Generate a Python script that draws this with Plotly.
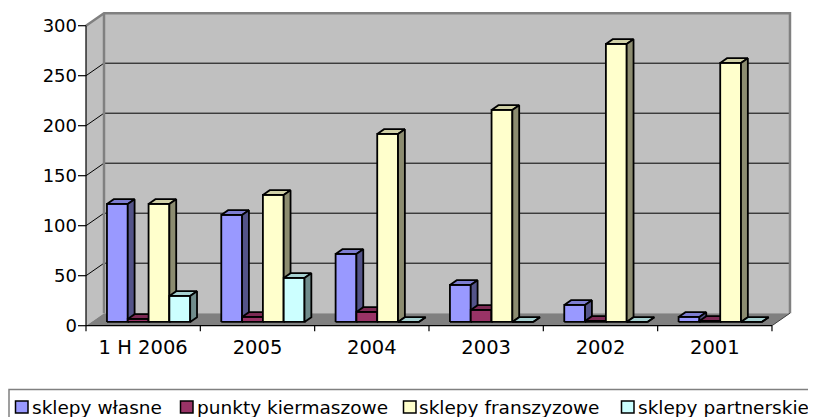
import plotly.graph_objects as go

# ---------------- data ----------------
categories = ["1 H 2006", "2005", "2004", "2003", "2002", "2001"]
series_names = ["sklepy własne", "punkty kiermaszowe", "sklepy franszyzowe", "sklepy partnerskie"]
sklepy_wlasne = [118, 107, 68, 37, 17, 5]
punkty_kiermaszowe = [3, 5, 10, 12, 1, 1]
sklepy_franszyzowe = [118, 127, 188, 212, 278, 259]
sklepy_partnerskie = [26, 44, 0, 0, 0, 0]
y_ticks = [0, 50, 100, 150, 200, 250, 300]

series_values = [sklepy_wlasne, punkty_kiermaszowe, sklepy_franszyzowe, sklepy_partnerskie]

# ---------------- styles ----------------
front_colors = ["#9999FF", "#993366", "#FFFFCC", "#CCFFFF"]
top_colors = ["#7D7DD1", "#7D2A54", "#D1D1A7", "#A7D1D1"]
side_colors = ["#545489", "#541C38", "#8C8C70", "#708C8C"]
FONT = "DejaVu Sans"

WIN_W, WIN_H = 816, 417
OFF = 8                      # page body margin in the browser
FW, FH = WIN_W - OFF, WIN_H - OFF

X0_PX = 86.0      # window pixel of category axis start
CAT_PX = 114.33   # pixels per category
Y0_PX = 325.7     # window pixel of value 0 on the front plane
UNIT_PX = 1.0     # pixels per value unit
PLOT_L, PLOT_R, PLOT_T, PLOT_B = 78, 794, 9, 333


def px_x(p):
    return (p - OFF) / FW


def px_y(p):
    return 1 - (p - OFF) / FH


x_range = [(PLOT_L - X0_PX) / CAT_PX, (PLOT_R - X0_PX) / CAT_PX]
y_range = [(Y0_PX - PLOT_B) / UNIT_PX, (Y0_PX - PLOT_T) / UNIT_PX]

DX = 18.0 / CAT_PX        # depth offset in x units
DY = 12.5 / UNIT_PX       # depth offset in value units
F_FRONT, F_BACK = 0.30, 0.68
BAR_W = 0.182
n_cat = len(categories)
n_ser = len(series_values)
vmax = max(y_ticks)

fig = go.Figure()


def add_poly(xs, ys, fill, line_color=None, line_width=0):
    fig.add_trace(go.Scatter(
        x=xs, y=ys, mode="lines", fill="toself", fillcolor=fill,
        line=dict(color=line_color or fill, width=line_width),
        hoverinfo="skip", showlegend=False))


def add_line(xs, ys, color, width):
    fig.add_trace(go.Scatter(
        x=xs, y=ys, mode="lines", line=dict(color=color, width=width),
        hoverinfo="skip", showlegend=False))


# walls & floor
add_poly([0, 0, DX, DX, 0], [0, vmax, vmax + DY, DY, 0], "#C0C0C0")
add_poly([DX, DX, n_cat + DX, n_cat + DX, DX], [DY, vmax + DY, vmax + DY, DY, DY], "#C0C0C0")
add_poly([0, n_cat, n_cat + DX, DX, 0], [0, 0, DY, DY, 0], "#808080")

# gridlines
gx, gy = [], []
for v in y_ticks[1:-1]:
    gx += [0, DX, n_cat + DX, None]
    gy += [v, v + DY, v + DY, None]
add_line(gx, gy, "black", 1)

# wall borders
add_line([0, DX, n_cat + DX, n_cat + DX], [vmax, vmax + DY, vmax + DY, DY], "#808080", 2.5)
add_line([DX, DX], [DY, vmax + DY], "#808080", 2.5)

# axes lines and ticks
add_line([0, 0], [0, vmax], "black", 1.2)
tx, ty = [], []
for v in y_ticks:
    tx += [-8.0 / CAT_PX, 0, None]
    ty += [v, v, None]
for i in range(n_cat + 1):
    tx += [i, i, None]
    ty += [0, -5.5, None]
add_line(tx, ty, "black", 1.2)
add_line([0, n_cat], [0, 0], "black", 1.2)
add_line([n_cat, n_cat + DX], [0, DY], "#404040", 1)

# bars
ax1, ay1 = F_FRONT * DX, F_FRONT * DY
ax2, ay2 = F_BACK * DX, F_BACK * DY
for s in range(n_ser):
    fx, fy, tpx, tpy, sx, sy = [], [], [], [], [], []
    for i, v in enumerate(series_values[s]):
        x0 = i + 0.5 - 2 * BAR_W + s * BAR_W
        x1 = x0 + BAR_W
        fx += [x0 + ax1, x1 + ax1, x1 + ax1, x0 + ax1, x0 + ax1, None]
        fy += [ay1, ay1, ay1 + v, ay1 + v, ay1, None]
        tpx += [x0 + ax1, x1 + ax1, x1 + ax2, x0 + ax2, x0 + ax1, None]
        tpy += [ay1 + v, ay1 + v, ay2 + v, ay2 + v, ay1 + v, None]
        sx += [x1 + ax1, x1 + ax2, x1 + ax2, x1 + ax1, x1 + ax1, None]
        sy += [ay1, ay2, ay2 + v, ay1 + v, ay1, None]
    add_poly(fx, fy, front_colors[s], "black", 1.8)
    add_poly(tpx, tpy, top_colors[s], "black", 1.8)
    add_poly(sx, sy, side_colors[s], "black", 1.8)

# ---------------- legend (manual, Excel style) ----------------
shapes = [dict(type="rect", xref="paper", yref="paper",
               x0=px_x(9), x1=px_x(840), y0=px_y(440), y1=px_y(389.5),
               line=dict(color="#808080", width=1.5), fillcolor="rgba(0,0,0,0)")]
annotations = []
leg_sq_x = [15.5, 180.5, 403.5, 621.5]
for s in range(n_ser):
    x0 = leg_sq_x[s]
    shapes.append(dict(type="rect", xref="paper", yref="paper",
                       x0=px_x(x0), x1=px_x(x0 + 12.5), y0=px_y(413), y1=px_y(401),
                       line=dict(color="black", width=1.5), fillcolor=front_colors[s]))
    annotations.append(dict(xref="paper", yref="paper", x=px_x(x0 + 15), y=px_y(407),
                            text=series_names[s], showarrow=False, xanchor="left",
                            yanchor="middle", borderpad=0,
                            font=dict(family=FONT, size=18.5, color="black")))

fig.update_layout(
    width=FW, height=FH,
    margin=dict(l=0, r=0, t=0, b=0),
    paper_bgcolor="white", plot_bgcolor="white",
    showlegend=False,
    shapes=shapes, annotations=annotations,
    xaxis=dict(domain=[px_x(PLOT_L), px_x(PLOT_R)], range=x_range,
               tickvals=[i + 0.5 for i in range(n_cat)], ticktext=categories,
               ticks="", showgrid=False, zeroline=False, showline=False,
               tickfont=dict(family=FONT, size=19.5, color="black"), automargin=False),
    yaxis=dict(domain=[px_y(PLOT_B), px_y(PLOT_T)], range=y_range,
               tickvals=y_ticks, ticktext=[str(v) for v in y_ticks],
               ticks="", showgrid=False, zeroline=False, showline=False,
               tickfont=dict(family=FONT, size=18, color="black"), automargin=False),
)

fig.write_html("out.html")
